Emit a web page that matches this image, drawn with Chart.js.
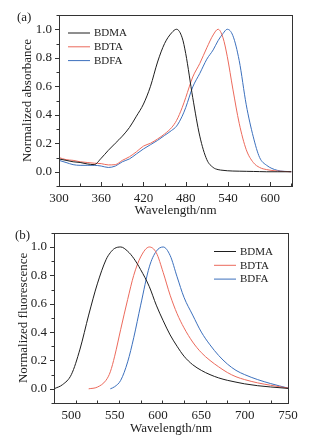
<!DOCTYPE html>
<html>
<head>
<meta charset="utf-8">
<script src="https://cdn.jsdelivr.net/npm/chart.js@4.4.1/dist/chart.umd.min.js"></script>
<style>
  body { margin: 0; background: #fff; }
  canvas { display: block; }
</style>
</head>
<body>
<canvas id="chartA" width="323" height="218"></canvas>
<canvas id="chartB" width="323" height="218"></canvas>
<script>
// series names + colours
const seriesNames = ["BDMA", "BDTA", "BDFA"];
const seriesColors = ["#1e1e1e", "#ec6a5c", "#3c70bd"];

// (a) absorbance
const absWl = [300,310,320,330,340,350,360,370,380,390,400,410,420,430,440,450,460,467,475,480,490,500,510,519,526,533,539,547,556,566,576,585,595,610,630];
const absBDMA = [0.09,0.08,0.07,0.065,0.055,0.05,0.095,0.15,0.2,0.25,0.31,0.39,0.475,0.6,0.77,0.9,0.975,1.0,0.94,0.83,0.52,0.25,0.085,0.03,0.015,0.01,0.007,0.005,0.004,0.003,0.002,0.001,0,0,0];
const absBDTA = [0.1,0.085,0.08,0.07,0.065,0.06,0.057,0.048,0.05,0.08,0.105,0.14,0.18,0.2,0.23,0.265,0.31,0.36,0.45,0.52,0.665,0.76,0.87,0.96,1.0,0.94,0.81,0.58,0.34,0.155,0.065,0.03,0.015,0.005,0];
const absBDFA = [0.08,0.065,0.05,0.045,0.045,0.045,0.04,0.03,0.04,0.07,0.09,0.125,0.16,0.19,0.22,0.255,0.29,0.32,0.39,0.45,0.595,0.69,0.79,0.855,0.92,0.97,1.0,0.955,0.78,0.47,0.245,0.1,0.045,0.01,0];

// (b) fluorescence (null = not measured there)
const flWl = [480,490,500,510,520,530,540,545,550,557,565,572,580,590,598,606,614,622,630,640,650,660,670,680,690,700,715,730,750];
const flBDMA = [0,0.03,0.1,0.28,0.52,0.74,0.91,0.96,0.99,1.0,0.97,0.92,0.84,0.72,0.59,0.48,0.38,0.3,0.23,0.17,0.13,0.1,0.077,0.06,0.047,0.035,0.022,0.013,0.003];
const flBDTA = [null,null,null,null,0,0.012,0.06,0.12,0.23,0.42,0.63,0.8,0.93,1.0,0.96,0.82,0.66,0.53,0.43,0.33,0.255,0.2,0.155,0.115,0.085,0.065,0.042,0.025,0.005];
const flBDFA = [null,null,null,null,null,null,null,0,0.015,0.06,0.19,0.36,0.59,0.86,0.97,1.0,0.94,0.79,0.645,0.52,0.4,0.31,0.235,0.175,0.13,0.1,0.065,0.037,0.005];

// ticks
const yTicks = [0, 0.2, 0.4, 0.6, 0.8, 1.0];
const absXTicks = [300, 360, 420, 480, 540, 600];
const flXTicks = [500, 550, 600, 650, 700, 750];

const FONT = "'Liberation Serif', 'Times New Roman', serif";

function pts(xs, ys) {
  const out = [];
  for (let i = 0; i < xs.length; i++) {
    if (ys[i] !== null) out.push({ x: xs[i], y: ys[i] });
  }
  return out;
}

// frame, tick marks, legend and panel letter
function decoPlugin(opt) {
  return {
    id: "deco",
    afterDraw(chart) {
      const c = chart.ctx;
      const a = chart.chartArea;
      const xs = chart.scales.x, ys = chart.scales.y;
      c.save();
      c.strokeStyle = "#333";
      c.lineWidth = 1;
      c.strokeRect(Math.round(a.left) + 0.5, Math.round(a.top) + 0.5, Math.round(a.right - a.left), Math.round(a.bottom - a.top));
      c.beginPath();
      // x ticks, pointing in
      for (let v = opt.xMin; v <= opt.xMax; v += opt.xMinor) {
        const px = Math.round(xs.getPixelForValue(v)) + 0.5;
        const major = opt.xTicks.indexOf(v) >= 0;
        c.moveTo(px, a.bottom);
        c.lineTo(px, a.bottom - (major ? 4 : 2.5));
      }
      // y ticks, pointing out
      for (let i = -1; i <= 11; i++) {
        const v = i / 10;
        const py = Math.round(ys.getPixelForValue(v)) + 0.5;
        c.moveTo(a.left, py);
        c.lineTo(a.left - (i % 2 === 0 ? 4 : 2.5), py);
      }
      c.stroke();
      // legend
      c.font = "11px " + FONT;
      c.textBaseline = "middle";
      chart.data.datasets.forEach((ds, i) => {
        const y = opt.legY + i * 13.8;
        c.strokeStyle = ds.borderColor;
        c.beginPath();
        c.moveTo(opt.legX, y);
        c.lineTo(opt.legX + 22, y);
        c.stroke();
        c.fillStyle = "#222";
        c.fillText(ds.label, opt.legX + 26, y + 0.5);
      });
      // panel letter
      c.font = "13px " + FONT;
      c.fillStyle = "#222";
      c.fillText(opt.letter, opt.letterX, opt.letterY);
      c.restore();
    }
  };
}

function makePanel(id, opt) {
  const datasets = opt.series.map((ys, i) => ({
    label: seriesNames[i],
    data: pts(opt.wl, ys),
    borderColor: seriesColors[i],
    borderWidth: 1,
    pointRadius: 0,
    fill: false,
    cubicInterpolationMode: "monotone"
  }));
  return new Chart(document.getElementById(id), {
    type: "line",
    data: { datasets: datasets },
    options: {
      responsive: false,
      animation: false,
      layout: { padding: { left: 0, right: opt.padRight, top: opt.padTop, bottom: 0 } },
      plugins: { legend: { display: false }, tooltip: { enabled: false } },
      scales: {
        x: {
          type: "linear",
          min: opt.xMin, max: opt.xMax,
          afterBuildTicks: s => { s.ticks = opt.xTicks.map(v => ({ value: v })); },
          afterFit: s => { s.height = opt.xH; },
          grid: { display: false, drawTicks: false },
          border: { display: false },
          ticks: { color: "#222", padding: 5, maxRotation: 0, font: { family: FONT, size: 13 } },
          title: { display: true, text: "Wavelength/nm", color: "#222", padding: 0, font: { family: FONT, size: 13 } }
        },
        y: {
          min: -0.1, max: 1.1,
          afterBuildTicks: s => { s.ticks = yTicks.map(v => ({ value: v })); },
          afterFit: s => { s.width = opt.yW; },
          grid: { display: false, drawTicks: false },
          border: { display: false },
          ticks: { color: "#222", padding: 7, callback: v => v.toFixed(1), font: { family: FONT, size: 13 } },
          title: { display: true, text: opt.yTitle, color: "#222", padding: { top: opt.yTitlePad, bottom: 0 }, font: { family: FONT, size: 13 } }
        }
      }
    },
    plugins: [decoPlugin(opt)]
  });
}

makePanel("chartA", {
  wl: absWl, series: [absBDMA, absBDTA, absBDFA],
  xMin: 300, xMax: 631, xTicks: absXTicks, xMinor: 30,
  yTitle: "Normalized absorbance", yTitlePad: 20,
  yW: 59, xH: 32, padTop: 15, padRight: 31,
  legX: 68, legY: 33, letter: "(a)", letterX: 17, letterY: 18
});

makePanel("chartB", {
  wl: flWl, series: [flBDMA, flBDTA, flBDFA],
  xMin: 480, xMax: 750, xTicks: flXTicks, xMinor: 25,
  yTitle: "Normalized fluorescence", yTitlePad: 16,
  yW: 54, xH: 33, padTop: 14, padRight: 35,
  legX: 214, legY: 33.5, letter: "(b)", letterX: 15, letterY: 18
});
</script>
</body>
</html>
